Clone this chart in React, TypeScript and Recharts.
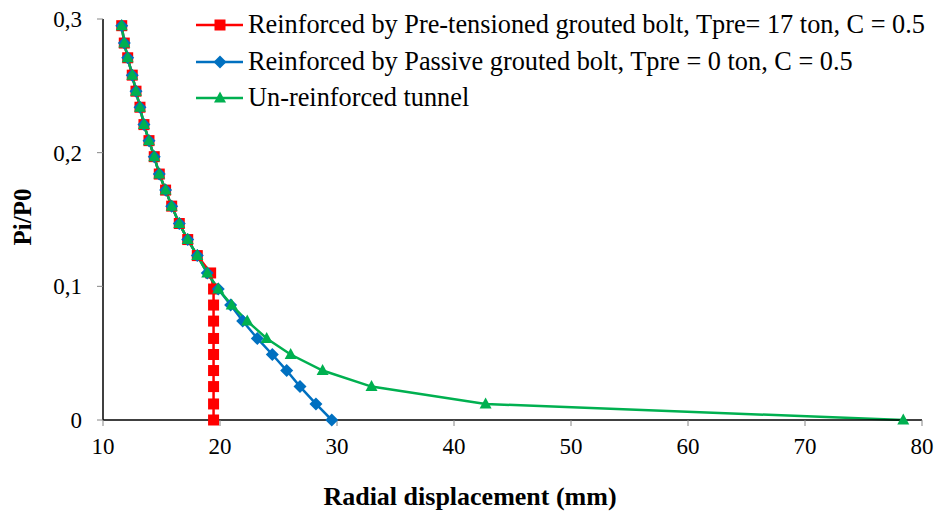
import { Label, Legend, Line, LineChart, XAxis, YAxis } from "recharts";

const FONT = '"Liberation Serif", "Times New Roman", serif';

// Pi/P0 levels shared by all three curves (top to bottom)
const PI_LEVELS = [
  0.295, 0.282, 0.271, 0.258, 0.246, 0.234, 0.221, 0.209, 0.197, 0.184, 0.172, 0.16, 0.147,
  0.135, 0.123, 0.11, 0.098, 0.086, 0.074, 0.061, 0.049, 0.037, 0.025, 0.012, 0,
];

// radial displacement (mm)
const PRE_TENSIONED_X = [
  11.6, 11.82, 12.11, 12.5, 12.82, 13.16, 13.5, 13.93, 14.38, 14.81, 15.35, 15.87, 16.52,
  17.24, 18.06, 19.2, 19.45, 19.45, 19.45, 19.45, 19.45, 19.45, 19.45, 19.45, 19.45,
];
const PASSIVE_X = [
  11.6, 11.82, 12.11, 12.5, 12.82, 13.16, 13.5, 13.93, 14.38, 14.81, 15.35, 15.87, 16.52,
  17.24, 18.06, 18.91, 19.85, 20.91, 21.94, 23.19, 24.47, 25.7, 26.84, 28.2, 29.55,
];
const UNREINFORCED_X = [
  11.6, 11.82, 12.11, 12.5, 12.82, 13.16, 13.5, 13.93, 14.38, 14.81, 15.35, 15.87, 16.52,
  17.24, 18.06, 18.91, 19.85, 21.0, 22.33, 23.99, 26.04, 28.77, 32.95, 42.7, 78.4,
];

const X_TICKS = [10, 20, 30, 40, 50, 60, 70, 80];
const Y_TICKS = [0, 0.1, 0.2, 0.3];

const RED = "#FF0000";
const BLUE = "#0070C0";
const GREEN = "#00B050";

const toPoints = (xs: number[]) => xs.map((x, i) => ({ x, y: PI_LEVELS[i] }));

const SERIES = [
  { name: "Reinforced by Pre-tensioned grouted bolt, Tpre= 17 ton, C = 0.5", color: RED, marker: "square", data: toPoints(PRE_TENSIONED_X) },
  { name: "Reinforced by Passive grouted bolt, Tpre = 0 ton, C = 0.5", color: BLUE, marker: "diamond", data: toPoints(PASSIVE_X) },
  { name: "Un-reinforced tunnel", color: GREEN, marker: "triangle", data: toPoints(UNREINFORCED_X) },
];

function Marker({ cx, cy, kind, color }: { cx: number; cy: number; kind: string; color: string }) {
  if (kind === "square") return <rect x={cx - 5.5} y={cy - 5.5} width={11} height={11} fill={color} />;
  if (kind === "diamond")
    return <path d={`M${cx},${cy - 6.5}L${cx + 6.5},${cy}L${cx},${cy + 6.5}L${cx - 6.5},${cy}Z`} fill={color} />;
  return <path d={`M${cx},${cy - 6.5}L${cx + 6},${cy + 4.5}L${cx - 6},${cy + 4.5}Z`} fill={color} />;
}

function LegendBox() {
  return (
    <div style={{ fontFamily: FONT, fontSize: 26.3, color: "#000" }}>
      {SERIES.map((s) => (
        <div key={s.name} style={{ display: "flex", alignItems: "center", height: 36.5, whiteSpace: "nowrap" }}>
          <svg width={52} height={20} style={{ flexShrink: 0 }}>
            <line x1={0} y1={10} x2={47} y2={10} stroke={s.color} strokeWidth={2.5} />
            <Marker cx={24} cy={10} kind={s.marker} color={s.color} />
          </svg>
          <span>{s.name}</span>
        </div>
      ))}
    </div>
  );
}

const fmtY = (v: number) => (v === 0 ? "0" : String(v).replace(".", ","));

export default function App() {
  return (
    <div style={{ position: "absolute", left: 0, top: 0, width: 937, height: 513, background: "#fff" }}>
      <LineChart width={937} height={513} margin={{ top: 19, right: 15, left: 0, bottom: 0 }}>
        <XAxis
          type="number"
          dataKey="x"
          domain={[10, 80]}
          ticks={X_TICKS}
          allowDataOverflow
          height={93}
          tickSize={6}
          tickMargin={12}
          axisLine={{ stroke: "#000", strokeWidth: 1.5 }}
          tickLine={{ stroke: "#868686" }}
          tick={{ fill: "#000", fontSize: 23, fontFamily: FONT }}
        >
          <Label
            content={() => (
              <text x={470} y={505} textAnchor="middle" fontFamily={FONT} fontSize={26} fontWeight="bold" fill="#000">
                Radial displacement (mm)
              </text>
            )}
          />
        </XAxis>
        <YAxis
          type="number"
          dataKey="y"
          domain={[0, 0.3]}
          ticks={Y_TICKS}
          width={103}
          tickSize={6}
          tickMargin={15}
          tickFormatter={fmtY}
          axisLine={{ stroke: "#000", strokeWidth: 1.5 }}
          tickLine={{ stroke: "#868686" }}
          tick={{ fill: "#000", fontSize: 23, fontFamily: FONT }}
        >
          <Label
            content={() => (
              <text
                x={22}
                y={217}
                transform="rotate(-90 22 217)"
                textAnchor="middle"
                dominantBaseline="central"
                fontFamily={FONT}
                fontSize={25}
                fontWeight="bold"
                fill="#000"
              >
                Pi/P0
              </text>
            )}
          />
        </YAxis>
        <Legend
          layout="vertical"
          align="center"
          verticalAlign="middle"
          wrapperStyle={{ top: 7, left: 196, width: "auto" }}
          content={() => <LegendBox />}
        />
        {SERIES.map((s) => (
          <Line
            key={s.name}
            data={s.data}
            dataKey="y"
            name={s.name}
            type="linear"
            stroke={s.color}
            strokeWidth={2.5}
            isAnimationActive={false}
            dot={(p: any) => <Marker key={p.index} cx={p.cx} cy={p.cy} kind={s.marker} color={s.color} />}
            activeDot={false}
          />
        ))}
      </LineChart>
    </div>
  );
}
